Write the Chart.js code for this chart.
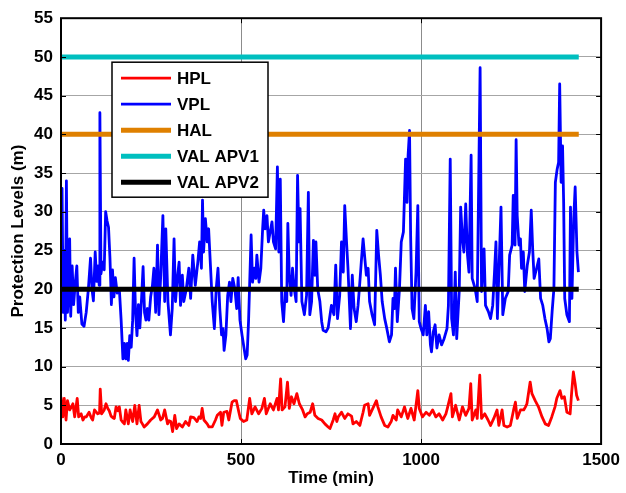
<!DOCTYPE html>
<html>
<head>
<meta charset="utf-8">
<script src="https://cdn.jsdelivr.net/npm/chart.js@4.4.1/dist/chart.umd.min.js"></script>
<style>
  html, body { margin: 0; padding: 0; background: #fff; }
  #wrap { width: 626px; height: 493px; }
</style>
</head>
<body>
<div id="wrap"><canvas id="plChart" width="626" height="493"></canvas></div>
<script>
// Protection levels over one day (minutes)
const hplTime = [0, 5, 9, 14, 18, 24, 29, 33, 38, 45, 49, 56, 61, 66, 70, 78, 84, 88, 93, 102, 107, 109, 113, 120, 125, 130, 134, 139, 144, 148,
  153, 158, 162, 167, 172, 176, 180, 187, 192, 199, 205, 211, 217, 222, 226, 231, 240, 249, 259, 268, 277, 282, 288, 296, 300, 305, 310, 316, 321, 328,
  337, 346, 355, 360, 369, 378, 383, 388, 392, 397, 406, 411, 420, 429, 434, 443, 447, 452, 461, 466, 475, 481, 487, 494, 498, 507, 516, 524, 530, 539,
  549, 558, 565, 570, 581, 590, 600, 604, 610, 614, 622, 629, 634, 640, 647, 655, 662, 671, 678, 684, 692, 699, 705, 714, 724, 733, 742, 747,
  756, 761, 766, 770, 779, 788, 797, 807, 811, 820, 830, 839, 843, 853, 857, 866, 876, 880, 889, 899, 908, 917, 922, 931, 935, 945, 954, 963, 972, 981,
  991, 995, 1004, 1014, 1023, 1032, 1041, 1050, 1060, 1069, 1073, 1083, 1087, 1096, 1106, 1115, 1124, 1133, 1138, 1142, 1152, 1156, 1163, 1168, 1177,
  1186, 1193, 1202, 1211, 1216, 1225, 1230, 1239, 1248, 1257, 1262, 1267, 1276, 1285, 1290, 1294, 1303, 1308, 1317, 1326, 1336, 1345, 1354, 1363,
  1372, 1377, 1386, 1391, 1398, 1405, 1414, 1418, 1423, 1428, 1432, 1437];
const hplValues = [6.1, 3.5, 5.9, 3.1, 5.6, 4.4, 4.8, 5.2, 3.5, 5.9, 3.5, 3.9, 3.1, 3.5, 3.5, 4.1, 3.4, 3.1, 4.4, 3.9, 4.0, 7.1, 3.9, 4.4, 5.2, 4.6, 4.3, 3.6, 3.4, 3.3,
  4.8, 4.3, 4.8, 3.1, 2.8, 2.6, 4.4, 2.6, 4.4, 2.9, 5.0, 2.6, 5.0, 2.9, 2.6, 2.2, 2.6, 3.1, 3.5, 4.4, 3.1, 3.3, 4.4, 2.6, 3.0, 2.9, 1.6, 3.7, 2.0, 2.6,
  2.2, 2.9, 2.4, 3.5, 3.4, 2.9, 3.5, 3.3, 4.6, 3.1, 2.6, 2.2, 2.2, 3.1, 3.7, 4.1, 2.4, 4.1, 4.2, 3.1, 5.4, 5.6, 5.6, 4.1, 3.3, 2.9, 3.1, 5.9, 3.9, 4.8,
  3.9, 4.6, 5.9, 3.9, 5.2, 4.4, 5.9, 4.4, 8.4, 4.4, 4.8, 8.0, 4.6, 6.1, 5.2, 6.5, 5.2, 4.4, 3.5, 3.9, 4.1, 5.2, 3.7, 3.3, 3.1, 2.6, 2.2, 2.0,
  3.1, 3.9, 2.9, 3.5, 4.1, 3.3, 3.9, 3.6, 2.6, 2.9, 2.4, 4.1, 5.0, 5.2, 3.7, 4.6, 5.6, 4.8, 3.5, 2.4, 2.2, 2.9, 3.7, 3.1, 4.4, 3.5, 4.8, 3.3, 4.6, 3.1,
  6.9, 4.6, 3.5, 4.1, 3.7, 4.4, 3.5, 3.9, 3.1, 3.9, 4.6, 6.5, 3.5, 5.0, 3.1, 4.8, 3.7, 4.6, 7.8, 3.1, 4.4, 3.3, 8.9, 3.3, 3.9,
  3.1, 2.4, 3.3, 4.4, 2.4, 4.4, 2.4, 2.2, 2.4, 4.4, 5.4, 3.3, 4.4, 4.4, 4.8, 5.2, 8.0, 6.5, 5.6, 4.8, 3.5, 2.6, 2.4, 3.5,
  4.8, 5.9, 6.9, 5.9, 6.1, 4.1, 3.9, 6.5, 9.3, 7.8, 6.3, 5.6];

const vplTime = [0, 3, 6, 9, 12, 15, 18, 21, 24, 27, 31, 35, 40, 44, 48, 52, 58, 64, 70, 76, 82, 86, 90, 95, 99, 103, 106, 108, 111, 116,
  120, 124, 128, 132, 136, 140, 143, 147, 151, 156, 162, 167, 172, 176, 180, 184, 187, 191, 195, 199, 203, 207, 211, 215, 219, 224, 228, 232, 236, 240,
  244, 249, 254, 258, 263, 268, 272, 277, 283, 288, 291, 297, 304, 309, 314, 318, 323, 328, 332, 337, 341, 348, 355, 360, 366, 373, 380, 385, 390, 393,
  396, 401, 406, 410, 415, 420, 426, 431, 436, 441, 446, 450, 453, 458, 463, 468, 472, 477, 483, 488, 492, 497, 503, 508, 513, 517, 521, 528, 532, 537,
  541, 544, 550, 555, 560, 563, 567, 572, 576, 581, 586, 590, 596, 601, 605, 609, 613, 618, 623, 627, 630, 634, 639, 643, 648, 653, 657, 661, 664, 669,
  676, 682, 687, 691, 696, 701, 705, 708, 713, 719, 724, 728, 736, 742, 751, 758, 763, 768, 774, 779, 784, 788, 793, 797, 804, 809, 814, 820, 825, 830,
  834, 839, 843, 848, 853, 857, 864, 871, 877, 882, 887, 892, 899, 905, 912, 918, 922, 926, 929, 934, 940, 945, 951, 957, 961, 964, 968, 971, 975, 980,
  986, 991, 995, 1000, 1006, 1012, 1016, 1021, 1026, 1029, 1034, 1039, 1044, 1050, 1057, 1064, 1072, 1076, 1081, 1085, 1090, 1095, 1099, 1106, 1110,
  1115, 1119, 1124, 1129, 1133, 1139, 1142, 1150, 1156, 1164, 1168, 1175, 1179, 1187, 1193, 1199, 1204, 1208, 1212, 1218, 1222, 1227, 1234, 1242,
  1246, 1253, 1256, 1261, 1264, 1267, 1272, 1276, 1279, 1284, 1288, 1295, 1301, 1306, 1310, 1314, 1321, 1327, 1332, 1338, 1344, 1350, 1355, 1359,
  1364, 1369, 1373, 1378, 1382, 1385, 1389, 1393, 1396, 1399, 1405, 1412, 1415, 1419, 1424, 1428, 1433, 1437];
const vplValues = [22, 33, 17, 25, 16, 34, 17, 20, 26.5, 16.5, 23, 18, 21, 23, 17, 19, 15.5, 15.2, 17, 20, 24, 20, 18.5, 24.8, 21, 23, 20.5, 42.8, 22, 23.5,
  22.5, 30, 28.8, 28, 24, 18, 22.5, 19, 21.5, 19.5, 20, 16, 11, 13, 11, 13, 10.8, 14, 12.5, 16, 24, 17, 14, 18, 15, 19, 22.9, 17, 16, 17.5,
  16, 19, 20.5, 22.7, 17, 25.7, 16.7, 21.8, 29.5, 18.4, 27.8, 18.4, 14.1, 17.5, 26.5, 18.4, 21.4, 23.5, 17.9, 21.8, 18.4, 20, 22.7, 18.8, 24.4, 20.5, 23.5, 26.1, 22.7, 31.5,
  24.8, 29.1, 26.1, 27.8, 23.1, 18.4, 14.9, 20, 22.7, 17.5, 14.1, 14.9, 12.1, 14.1, 19.2, 20.9, 18.4, 21.4, 20, 17.5, 21.5, 16, 14, 12.5, 11, 11.5, 16, 27, 20.9, 22.7,
  21.4, 24.4, 20.9, 22.7, 27.8, 30.2, 27.8, 29.5, 26.1, 27.4, 28.7, 26.1, 25.2, 35.8, 24.8, 34.2, 18.4, 15.8, 20, 18.4, 28.5, 21.8, 19.2, 22.7, 20, 18.4, 34.7, 26.1, 30.4, 18.4,
  16.7, 19.2, 32.5, 16.7, 18.4, 26.3, 21.8, 26.1, 20, 18.4, 15.8, 14.7, 14.5, 15, 17.9, 16.7, 23.1, 16.2, 19.2, 26.1, 22.2, 30.8, 26.1, 22.7, 14.9, 21.8, 17.5, 15.8, 17.9, 20.9,
  23.5, 26.5, 24.4, 21.8, 22.7, 18.4, 16.7, 15.4, 27.6, 24.4, 21.8, 18.4, 16.2, 14.9, 13.2, 14.1, 18.8, 17.5, 22.7, 15.8, 20, 26.1, 27.4, 36.8, 31.2, 37.3, 40.5, 27, 17.5, 16.2,
  22.2, 30.8, 15.8, 14.9, 14.1, 17.9, 14.1, 17.1, 12.8, 11.9, 14.5, 15.4, 12.4, 14.1, 12.8, 13.6, 14.9, 17.9, 36.8, 16.2, 14.1, 22.2, 13.6, 19.7, 30.6,
  26.5, 24.8, 31, 24.4, 22.2, 37.3, 21.4, 20.1, 18.4, 48.6, 19.7, 25.2, 17.9, 17.1, 16.2, 17.9, 22.2, 26.1, 16.2, 24.8, 30.6, 16.7, 18.8, 19.7,
  24.4, 25.7, 32.1, 25.7, 39.3, 29.5, 25.7, 26.5, 22.7, 24.8, 19.7, 23.1, 24.8, 30.2, 25.2, 21.4, 22.7, 23.9, 18.8, 17.9, 16.2, 14.9, 13.2, 13.6,
  17.1, 20.1, 33.8, 35.5, 36.4, 46.5, 33.8, 38.5, 31.2, 18.8, 16.7, 15.8, 30.6, 18.8, 29.1, 33.2, 24.8, 22.2];

// alert limits, constant over the run
const limitTime = [0, 1438];
const halValues = [40, 40];
const valApv1Values = [50, 50];
const valApv2Values = [20, 20];

const xTicks = [0, 500, 1000, 1500];
const yTicks = [0, 5, 10, 15, 20, 25, 30, 35, 40, 45, 50, 55];

const FONT = "'Liberation Sans', Arial, sans-serif";
const toPoints = (xs, ys) => xs.map((x, i) => ({ x: x, y: ys[i] }));

// box round the plot, inward ticks, and the boxed legend
const framePlugin = {
  id: 'frame',
  afterDraw(chart) {
    const { ctx, chartArea: a, scales } = chart;
    ctx.save();
    ctx.strokeStyle = '#000';
    ctx.lineWidth = 1;
    ctx.beginPath();
    yTicks.forEach(v => {
      const py = Math.round(scales.y.getPixelForValue(v)) + 0.5;
      ctx.moveTo(a.left, py); ctx.lineTo(a.left + 5, py);
      ctx.moveTo(a.right, py); ctx.lineTo(a.right - 5, py);
    });
    xTicks.forEach(v => {
      const px = Math.round(scales.x.getPixelForValue(v)) + 0.5;
      ctx.moveTo(px, a.bottom); ctx.lineTo(px, a.bottom - 5);
      ctx.moveTo(px, a.top); ctx.lineTo(px, a.top + 5);
    });
    ctx.stroke();
    ctx.lineWidth = 2;
    ctx.strokeRect(a.left, a.top, a.right - a.left, a.bottom - a.top);

    // legend
    const lx = a.left + 51, ly = a.top + 44, lw = 156, lh = 135;
    ctx.fillStyle = '#fff';
    ctx.fillRect(lx, ly, lw, lh);
    ctx.lineWidth = 1.5;
    ctx.strokeRect(lx, ly, lw, lh);
    ctx.font = 'bold 17px ' + FONT;
    ctx.textBaseline = 'middle';
    ctx.textAlign = 'left';
    chart.data.datasets.forEach((ds, i) => {
      const rowY = ly + 16 + i * 26;
      ctx.strokeStyle = ds.borderColor;
      ctx.lineWidth = ds.borderWidth;
      ctx.beginPath();
      ctx.moveTo(lx + 9, rowY);
      ctx.lineTo(lx + 59, rowY);
      ctx.stroke();
      ctx.fillStyle = '#000';
      ctx.fillText(ds.label, lx + 65, rowY + 1);
    });
    ctx.restore();
  }
};

const ctx = document.getElementById('plChart').getContext('2d');
new Chart(ctx, {
  type: 'line',
  data: {
    datasets: [
      { label: 'HPL', data: toPoints(hplTime, hplValues), borderColor: '#ff0000', borderWidth: 2.8, order: 5 },
      { label: 'VPL', data: toPoints(vplTime, vplValues), borderColor: '#0000ff', borderWidth: 2.8, order: 4 },
      { label: 'HAL', data: toPoints(limitTime, halValues), borderColor: '#df8000', borderWidth: 5, order: 3 },
      { label: 'VAL APV1', data: toPoints(limitTime, valApv1Values), borderColor: '#00bfbf', borderWidth: 5, order: 2 },
      { label: 'VAL APV2', data: toPoints(limitTime, valApv2Values), borderColor: '#000000', borderWidth: 5, order: 1 }
    ]
  },
  options: {
    responsive: false,
    devicePixelRatio: 1,
    animation: false,
    layout: { padding: { left: 0, right: 22, top: 13, bottom: 0 } },
    elements: {
      point: { radius: 0 },
      line: { tension: 0, fill: false, borderJoinStyle: 'round' }
    },
    plugins: { legend: { display: false }, tooltip: { enabled: false } },
    scales: {
      x: {
        type: 'linear',
        min: 0, max: 1500,
        afterBuildTicks: s => { s.ticks = xTicks.map(v => ({ value: v })); },
        afterFit: s => { s.height = 49; },
        grid: { color: '#8c8c8c', lineWidth: 1, drawTicks: false },
        border: { display: false },
        ticks: { color: '#000', padding: 6, maxRotation: 0, callback: v => String(v),
                 font: { family: FONT, size: 17, weight: 'bold' } },
        title: { display: true, text: 'Time (min)', color: '#000', padding: { top: 0, bottom: 4 },
                 font: { family: FONT, size: 17, weight: 'bold' } }
      },
      y: {
        type: 'linear',
        min: 0, max: 55,
        afterBuildTicks: s => { s.ticks = yTicks.map(v => ({ value: v })); },
        afterFit: s => { s.width = 61; },
        grid: { color: '#a6a6a6', lineWidth: 1, drawTicks: false },
        border: { display: false },
        ticks: { color: '#000', padding: 8, callback: v => String(v),
                 font: { family: FONT, size: 17, weight: 'bold' } },
        title: { display: true, text: 'Protection Levels (m)', color: '#000', padding: { top: 8, bottom: 0 },
                 font: { family: FONT, size: 17, weight: 'bold' } }
      }
    }
  },
  plugins: [framePlugin]
});
</script>
</body>
</html>
